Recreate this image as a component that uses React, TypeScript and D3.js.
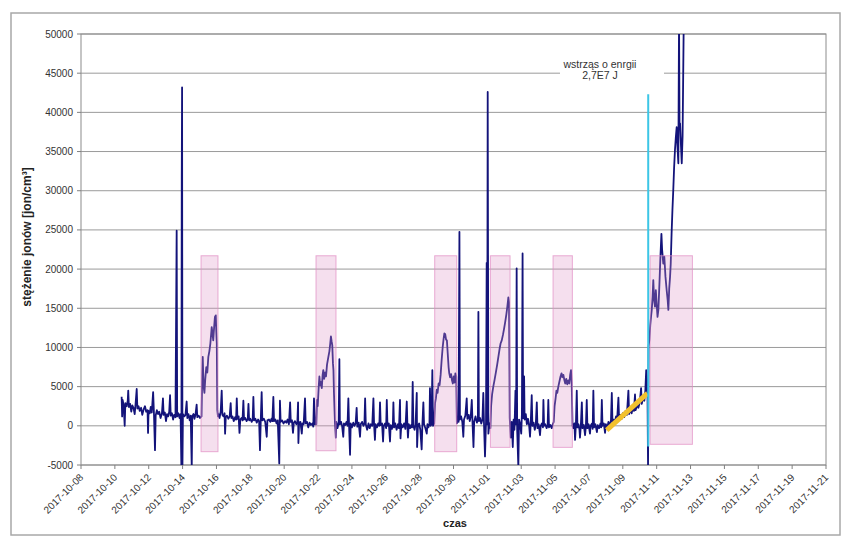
import React from "react";
import * as d3 from "d3";

// Time is given as days since 2017-10-08 00:00, values in jon/cm3
const segOct10to15: [number, number][] = [
  [2.40, 3700], [2.43, 1200], [2.46, 3300], [2.52, 2600], [2.58, 0], [2.62, 2900], [2.70, 2500], [2.76, 3200],
  [2.79, 4500], [2.83, 2400], [2.90, 2800], [2.97, 1800], [3.03, 2600], [3.10, 2300], [3.17, 1500], [3.22, 2700],
  [3.29, 4700], [3.33, 2200], [3.40, 2500], [3.47, 1900], [3.55, 2300], [3.62, 1400], [3.70, 2100], [3.78, 2500],
  [3.85, 1800], [3.93, 2000], [3.96, -900], [3.99, 1900], [4.06, 1600], [4.12, 2400], [4.18, 1700], [4.26, 4300],
  [4.31, 1500], [4.37, -3100], [4.41, 1300], [4.48, 2000], [4.55, 1500], [4.62, 1800], [4.70, 1000], [4.78, 1600],
  [4.84, 3500], [4.88, 1400], [4.95, 1700], [5.02, 600], [5.08, 1500], [5.15, 1200], [5.21, 1800], [5.26, 3900],
  [5.30, 1300], [5.37, 1600], [5.44, 800], [5.50, 1400], [5.58, 1100], [5.65, 24900], [5.68, 1200], [5.75, 1600],
  [5.82, 1000], [5.88, 1500], [5.93, -5300], [5.95, 31500], [5.97, 43200], [5.99, -5300], [6.02, 1500], [6.10, 1200],
  [6.17, 1400], [6.24, 3100], [6.28, 1000], [6.35, 1500], [6.42, 700], [6.48, 1300], [6.54, -5300], [6.57, 1200],
  [6.64, 1500], [6.70, 900], [6.76, 1400], [6.83, 2700], [6.87, 1100], [6.95, 1300], [7.03, 1000],
];
const peak1: [number, number][] = [
  [7.12, 1200], [7.16, 6500], [7.19, 8800], [7.24, 5000], [7.29, 4200], [7.34, 6000], [7.40, 7500], [7.46, 6800],
  [7.52, 8800], [7.58, 9500], [7.64, 10500], [7.72, 12600], [7.78, 11500], [7.81, 10900], [7.86, 12500], [7.91, 13900],
  [7.96, 14100], [7.99, 12000], [8.02, 10500], [8.05, 2000], [8.09, 1200],
];
const segOct16to21: [number, number][] = [
  [8.12, 1500], [8.18, 1000], [8.25, 1800], [8.31, 4500], [8.35, 1400], [8.42, 1200], [8.48, 1600], [8.51, -1000],
  [8.55, 1100], [8.62, 1300], [8.70, 900], [8.78, 1200], [8.84, 2900], [8.88, 1000], [8.95, 1200], [9.02, 600],
  [9.10, 1100], [9.16, 800], [9.20, 3500], [9.24, 900], [9.31, 1200], [9.36, -900], [9.41, 800], [9.48, 1000],
  [9.54, 700], [9.59, 3200], [9.63, 800], [9.70, 1000], [9.78, 600], [9.85, 900], [9.89, 2800], [9.93, 700],
  [10.00, 900], [10.08, 500], [10.14, 800], [10.18, 3700], [10.22, 700], [10.30, 900], [10.38, 400], [10.46, 800],
  [10.52, 600], [10.57, -3100], [10.62, 900], [10.67, 4300], [10.71, 700], [10.80, 900], [10.88, 500], [10.97, -1400],
  [11.01, 700], [11.10, 800], [11.18, 500], [11.25, 900], [11.30, 600], [11.36, 3700], [11.40, 600], [11.48, 800],
  [11.55, 300], [11.62, 700], [11.71, -4800], [11.75, 3200], [11.79, 500], [11.88, 700], [11.96, 300], [12.05, 600],
  [12.13, 400], [12.20, 800], [12.28, 200], [12.35, 3000], [12.39, 500], [12.46, 700], [12.52, -900], [12.57, 400],
  [12.64, 600], [12.72, 200], [12.78, 500], [12.82, 3000], [12.84, -2200], [12.88, 400], [12.96, 500], [13.04, -1000],
  [13.08, 300], [13.15, 200], [13.23, 3500], [13.27, 300], [13.35, 500], [13.42, -200], [13.50, 400], [13.58, 100],
  [13.66, 300], [13.72, -100], [13.76, 3500], [13.82, 200],
];
const peak2: [number, number][] = [
  [13.90, 200], [13.94, 3300], [13.98, 2500], [14.04, 5000], [14.08, 6300], [14.12, 5200], [14.16, 5600], [14.22, 4800],
  [14.27, 6500], [14.31, 7100], [14.36, 6000], [14.42, 6800], [14.47, 6300], [14.53, 7800], [14.61, 8800], [14.67, 9500],
  [14.72, 10500], [14.76, 11400], [14.80, 10800], [14.84, 10300], [14.88, 8000], [14.91, 7100], [14.94, 4200],
  [15.00, 300], [15.05, -1500],
];
const segOct23to28: [number, number][] = [
  [15.08, 500], [15.15, -300], [15.22, 400], [15.26, 8500], [15.29, 200], [15.36, 500], [15.42, 0], [15.49, -1400],
  [15.53, 300], [15.60, 100], [15.68, 500], [15.74, 0], [15.79, 3500], [15.83, 200], [15.89, -3700], [15.93, 300],
  [16.00, -200], [16.08, 400], [16.15, 0], [16.22, 300], [16.28, 2300], [16.32, -100], [16.40, 400], [16.48, -1400],
  [16.52, 200], [16.60, 500], [16.68, 0], [16.74, 300], [16.78, 3500], [16.82, 200], [16.90, -500], [16.98, 300],
  [17.05, -300], [17.12, 200], [17.20, 0], [17.27, 3500], [17.31, 100], [17.36, -1800], [17.40, 200], [17.48, -200],
  [17.55, 300], [17.62, 0], [17.66, 3000], [17.70, 100], [17.78, 300], [17.84, -2000], [17.88, 0], [17.96, 300],
  [18.02, -300], [18.06, 3300], [18.10, 0], [18.18, 300], [18.25, -2000], [18.29, 100], [18.36, -400], [18.42, 200],
  [18.45, 3000], [18.49, -200], [18.56, 300], [18.64, -500], [18.72, 200], [18.78, -300], [18.84, 3300], [18.87, -1600],
  [18.92, 200], [19.00, -200], [19.08, 300], [19.16, -400], [19.24, 3100], [19.28, -100], [19.31, -1500], [19.36, 200],
  [19.44, -300], [19.50, 100], [19.55, -200], [19.59, 5600], [19.63, 0], [19.70, -500], [19.76, 200], [19.83, 4200],
  [19.85, -2700], [19.90, 0], [19.97, 300], [20.04, -500], [20.12, -3000], [20.16, 0], [20.22, 3000], [20.26, 200],
  [20.34, -300], [20.42, -1000], [20.46, 200], [20.52, -200], [20.58, 300], [20.61, 4800], [20.65, 0], [20.70, 200],
  [20.75, 7100], [20.79, 0], [20.86, 300],
];
const peak3: [number, number][] = [
  [20.91, 2900], [20.96, 3500], [21.01, 4600], [21.06, 4200], [21.12, 5400], [21.18, 5200], [21.24, 6500], [21.30, 8400],
  [21.36, 10000], [21.41, 11000], [21.46, 11800], [21.51, 11700], [21.56, 11000], [21.61, 10900], [21.66, 9200],
  [21.71, 7500], [21.75, 6700], [21.80, 6200], [21.86, 6600], [21.91, 5800], [21.96, 5400], [22.01, 6300], [22.06, 5500],
  [22.11, 6700], [22.16, 6300], [22.20, 300],
];
const segOct30toNov01: [number, number][] = [
  [22.24, 1200], [22.30, 500], [22.35, 24750], [22.38, 800], [22.45, 1200], [22.52, 500], [22.58, -1400], [22.62, 800],
  [22.70, 1300], [22.78, 3500], [22.82, 900], [22.90, 1400], [22.96, 600], [23.02, 1200], [23.08, 3300], [23.12, 600],
  [23.18, -2700], [23.22, 500], [23.30, 1200], [23.38, 400], [23.44, 900], [23.47, 14550], [23.50, 600], [23.57, 1000],
  [23.64, 300], [23.71, 800], [23.76, 4200], [23.80, 400], [23.86, -3900], [23.92, 500], [23.96, 20800], [23.99, 200],
  [24.02, 42600], [24.06, -1000], [24.12, 300],
];
const peak4: [number, number][] = [
  [24.18, -300], [24.22, 2500], [24.28, 4000], [24.35, 5000], [24.42, 5800], [24.50, 6800], [24.58, 7800], [24.65, 8800],
  [24.72, 9800], [24.78, 10500], [24.85, 10900], [24.92, 11600], [24.98, 12300], [25.05, 13200], [25.12, 14200],
  [25.18, 15200], [25.24, 16400], [25.28, 15800], [25.32, 1000],
];
const segNov02to04: [number, number][] = [
  [25.38, -1500], [25.44, 500], [25.50, -2700], [25.55, 800], [25.60, -500], [25.66, 4500], [25.70, 200], [25.73, 20100],
  [25.76, -500], [25.83, -5300], [25.87, 800], [25.93, 300], [26.00, -1000], [26.04, 1500], [26.08, 22000], [26.11, 1000],
  [26.17, 6300], [26.20, 800], [26.27, 1500], [26.33, 200], [26.40, 900], [26.47, 0], [26.52, -1400], [26.56, 300],
  [26.62, 3900], [26.66, 0], [26.73, 400], [26.80, -500], [26.86, 200], [26.92, 3000], [26.96, -300], [27.03, 200],
  [27.11, -1200], [27.15, 0], [27.22, 300], [27.28, -200], [27.31, 3300], [27.35, 0], [27.42, 200], [27.50, -300],
  [27.56, 100], [27.60, 3300], [27.64, -200], [27.72, 100], [27.80, -300], [27.86, 200],
];
const peak5: [number, number][] = [
  [27.92, 500], [27.97, 2500], [28.03, 3500], [28.08, 4500], [28.13, 4200], [28.19, 5000], [28.25, 5600], [28.32, 6300],
  [28.38, 6700], [28.43, 6200], [28.49, 6500], [28.55, 5800], [28.60, 5400], [28.66, 6000], [28.72, 5300], [28.78, 5800],
  [28.84, 5400], [28.89, 6500], [28.94, 7100], [28.98, 5500], [29.03, 0],
];
const segNov06to10: [number, number][] = [
  [29.08, -300], [29.14, 300], [29.18, -1800], [29.23, 200], [29.28, 4500], [29.32, -200], [29.38, 200], [29.44, -500],
  [29.47, -1500], [29.52, 0], [29.58, 3000], [29.62, -300], [29.70, 100], [29.77, -1200], [29.82, 0], [29.87, 3300],
  [29.91, -300], [29.98, 200], [30.06, -1000], [30.10, 0], [30.18, 300], [30.22, -400], [30.26, 4500], [30.30, -200],
  [30.38, 200], [30.47, -800], [30.52, 100], [30.60, -300], [30.68, 300], [30.72, -200], [30.76, 3300], [30.80, 0],
  [30.88, 300], [30.95, -900], [31.00, 200], [31.08, -300], [31.15, 500], [31.22, 0], [31.30, 700], [31.35, 4200],
  [31.39, 300], [31.46, 800], [31.52, 400], [31.60, 1200], [31.66, 600], [31.74, 3600], [31.78, 800], [31.86, 1400],
  [31.93, 900], [32.00, 1600], [32.08, 1100], [32.16, 1900], [32.24, 1400], [32.33, 4500], [32.37, 1500], [32.44, 2100],
  [32.52, 1600], [32.60, 2400], [32.66, 1900], [32.72, 4000], [32.76, 2000], [32.84, 2700], [32.92, 2300], [33.00, 3000],
  [33.08, 4800], [33.12, 2800], [33.20, 3600], [33.27, 3200], [33.33, 4500], [33.38, 7100], [33.42, 5000], [33.46, 3800],
  [33.49, -5300],
];
const afterShock: [number, number][] = [
  [33.52, 10100], [33.57, 11000], [33.62, 12800], [33.67, 14000], [33.71, 14800], [33.76, 16500], [33.80, 18600],
  [33.85, 16000], [33.90, 15200], [33.95, 17300], [34.00, 15500], [34.05, 13900], [34.10, 14800], [34.16, 18000],
  [34.22, 21500], [34.28, 24500], [34.32, 22500], [34.39, 20700], [34.45, 21600], [34.52, 19000], [34.59, 17300],
  [34.65, 16000], [34.69, 14800], [34.74, 17500], [34.79, 19000], [34.83, 20700], [34.88, 24500], [34.93, 27500],
  [34.98, 30100], [35.03, 33000], [35.08, 35200], [35.13, 36800], [35.18, 38100], [35.23, 35500], [35.28, 33500],
  [35.32, 52000], [35.35, 38000], [35.38, 38600], [35.43, 36000], [35.48, 33500], [35.53, 37000], [35.60, 52000],
];

// highlighted periods: [startDay, endDay, top, bottom]
const boxStart = [7.09, 13.88, 20.89, 24.18, 27.88, 33.61];
const boxEnd = [8.09, 15.06, 22.19, 25.34, 29.02, 36.11];
const boxTop = [21700, 21700, 21700, 21700, 21700, 21700];
const boxBottom = [-3300, -3180, -3300, -2750, -2750, -2360];

const trendLine: [number, number][] = [[31.05, -550], [33.45, 4150]];
const shockDay = 33.5;
const shockRange = [-2650, 42300];

const yTicks = [-5000, 0, 5000, 10000, 15000, 20000, 25000, 30000, 35000, 40000, 45000, 50000];
const xTickDays = [0, 2, 4, 6, 8, 10, 12, 14, 16, 18, 20, 22, 24, 26, 28, 30, 32, 34, 36, 38, 40, 42, 44];

const BASE = Date.UTC(2017, 9, 8);
const toDate = (d: number) => new Date(BASE + d * 864e5);

export default function App() {
  const W = 851, H = 546;
  const L = 81, R = 826, T = 34, B = 465;
  const x = d3.scaleUtc().domain([toDate(0), toDate(44)]).range([L, R]);
  const y = d3.scaleLinear().domain([-5000, 50000]).range([B, T]);
  const fmt = d3.utcFormat("%Y-%m-%d");
  const series = [
    ...segOct10to15, ...peak1, ...segOct16to21, ...peak2, ...segOct23to28, ...peak3,
    ...segOct30toNov01, ...peak4, ...segNov02to04, ...peak5, ...segNov06to10, ...afterShock,
  ];
  const line = d3.line<[number, number]>().x((p) => x(toDate(p[0]))).y((p) => y(p[1]));
  const font = "'Liberation Sans', Arial, sans-serif";
  return (
    <svg width={W} height={H} style={{ position: "absolute", left: 0, top: 0, background: "#fff" }} fontFamily={font}>
      <defs>
        <clipPath id="plot">
          <rect x={L} y={T} width={R - L} height={B - T} />
        </clipPath>
      </defs>
      <rect x={11} y={13} width={829} height={522} fill="#fff" stroke="#a8a8a8" strokeWidth={1.5} />
      {yTicks.map((v) => (
        <line key={"g" + v} x1={L} x2={R} y1={y(v)} y2={y(v)} stroke="#9a9a9a" strokeWidth={1} />
      ))}
      <rect x={L} y={T} width={R - L} height={B - T} fill="none" stroke="#8c8c8c" strokeWidth={1} />
      {yTicks.map((v) => (
        <g key={"yt" + v}>
          <line x1={L - 4} x2={L} y1={y(v)} y2={y(v)} stroke="#808080" />
          <text x={73} y={y(v) + 3.5} textAnchor="end" fontSize={10} fill="#333">{v}</text>
        </g>
      ))}
      {xTickDays.map((d) => {
        const xx = x(toDate(d));
        return (
          <g key={"xt" + d}>
            <line x1={xx} x2={xx} y1={B} y2={B + 4} stroke="#808080" />
            <text transform={`translate(${xx + 3},${B + 13}) rotate(-45)`} textAnchor="end" fontSize={10} fill="#333">
              {fmt(toDate(d))}
            </text>
          </g>
        );
      })}
      <g clipPath="url(#plot)">
        <path d={line(series) || ""} fill="none" stroke="#13137a" strokeWidth={1.8} strokeLinejoin="round" />
        {boxStart.map((s, i) => (
          <rect key={"b" + i} x={x(toDate(s))} y={y(boxTop[i])} width={x(toDate(boxEnd[i])) - x(toDate(s))}
            height={y(boxBottom[i]) - y(boxTop[i])} fill="rgba(222,150,200,0.3)" stroke="rgba(225,140,195,0.7)" strokeWidth={1} />
        ))}
        <path d={line(trendLine) || ""} stroke="#f2c12e" strokeWidth={5} fill="none" />
        <line x1={x(toDate(shockDay))} x2={x(toDate(shockDay))} y1={y(shockRange[0])} y2={y(shockRange[1])}
          stroke="#3cc6e6" strokeWidth={2} />
      </g>
      <rect x={560} y={55} width={104} height={32} fill="#fff" />
      <text x={600} y={67.5} textAnchor="middle" fontSize={10.5} fill="#333">wstrząs o enrgii</text>
      <text x={600} y={78.5} textAnchor="middle" fontSize={10.5} fill="#333">2,7E7 J</text>
      <text x={455} y={527} textAnchor="middle" fontSize={11} fontWeight="bold" fill="#222">czas</text>
      <text transform={`translate(31,237) rotate(-90)`} textAnchor="middle" fontSize={12} fontWeight="bold" fill="#222">
        stężenie jonów [jon/cm³]
      </text>
    </svg>
  );
}
